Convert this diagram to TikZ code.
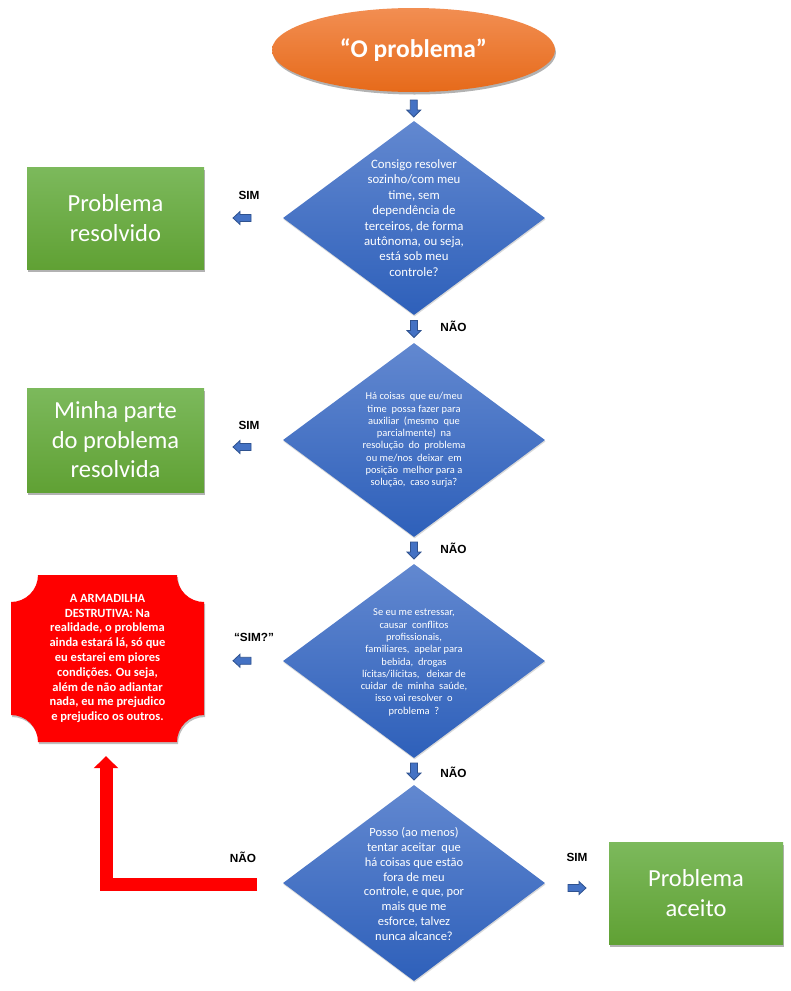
\documentclass[tikz,border=0pt]{standalone}
\usepackage{fontspec}
\setmainfont{Carlito}
\newfontfamily\labfont{Liberation Sans}
\usetikzlibrary{shapes.geometric,arrows.meta,calc,shadows}
\definecolor{orgtop}{RGB}{242,142,82}
\definecolor{orgbot}{RGB}{230,106,26}
\definecolor{blutop}{RGB}{98,136,208}
\definecolor{blubot}{RGB}{46,96,186}
\definecolor{grntop}{RGB}{124,185,92}
\definecolor{grnbot}{RGB}{96,161,52}
\definecolor{arrfill}{RGB}{68,114,196}
\definecolor{arrline}{RGB}{47,82,143}
\definecolor{trapred}{RGB}{255,0,0}
\begin{document}
\begin{tikzpicture}[x=1pt,y=-1pt,
  softshadow/.style={drop shadow={shadow xshift=1pt,shadow yshift=-2.5pt,opacity=0.3,fill=black}},
  startnode/.style={ellipse,inner sep=0pt,minimum width=283pt,minimum height=84pt,
    top color=orgtop,bottom color=orgbot,softshadow,text=white,
    font=\bfseries\fontsize{25.5}{30}\selectfont},
  decision/.style={diamond,inner sep=0pt,minimum width=262pt,minimum height=194pt,
    top color=blutop,bottom color=blubot,drop shadow={shadow xshift=0.5pt,shadow yshift=-1.5pt,opacity=0.15,fill=black}},
  dtext/.style={text=white,align=center,inner sep=0pt},
  dbig/.style={dtext,font=\fontsize{12.8}{15.4}\selectfont},
  dsmall/.style={dtext,font=\fontsize{10.5}{12.3}\selectfont},
  greenbox/.style={rectangle,inner sep=0pt,minimum width=177pt,minimum height=102pt,
    top color=grntop,bottom color=grnbot,softshadow,text=white,align=center,
    font=\fontsize{24.5}{29.5}\selectfont},
  traptext/.style={text=white,align=center,inner sep=0pt,minimum width=193pt,minimum height=167pt,
    font=\bfseries\fontsize{12.5}{14.8}\selectfont},
  lab/.style={font=\labfont\bfseries\fontsize{11.8}{14}\selectfont,inner sep=0pt},
  blockarr/.style={fill=arrfill,draw=arrline,line width=0.8pt,line join=miter},
  redarrow/.style={draw=trapred,line width=13pt,line join=miter,
    -{Triangle[width=24pt,length=12pt]}},
  pics/downarr/.style={code={\draw[blockarr] (-3.5,-8.5) -- (3.5,-8.5) -- (3.5,1.5) -- (7,1.5) -- (0,8.5) -- (-7,1.5) -- (-3.5,1.5) -- cycle;}},
  pics/leftarr/.style={code={\draw[blockarr] (9,-3.5) -- (9,3.5) -- (-2,3.5) -- (-2,6.5) -- (-9,0) -- (-2,-6.5) -- (-2,-3.5) -- cycle;}},
  pics/rightarr/.style={code={\draw[blockarr] (-9,-3.5) -- (-9,3.5) -- (2,3.5) -- (2,6.5) -- (9,0) -- (2,-6.5) -- (2,-3.5) -- cycle;}}
]
\fill[white] (0,0) rectangle (791,991);
\useasboundingbox (0,0) rectangle (791,991);

% start
\node[startnode] (start) at (413.5,50) {“O problema”};

% decisions
\node[decision] (d1) at (414,218) {};
\node[dbig] (d1t) at (d1.center) {Consigo resolver\\sozinho/com meu\\time, sem\\dependência de\\terceiros, de forma\\autônoma, ou seja,\\está sob meu\\controle?};
\node[decision] (d2) at (414,440) {};
\node[dsmall] (d2t) at (d2.center) {Há coisas \ que eu/meu\\time \ possa fazer para\\auxiliar \ (mesmo \ que\\parcialmente) \ na\\resolução \ do \ problema\\ou me/nos \ deixar \ em\\posição \ melhor para a\\solução, \ caso surja?};
\node[decision] (d3) at (414,661) {};
\node[dsmall] (d3t) at (414,662.5) {Se eu me estressar,\\causar \ conflitos\\profissionais,\\familiares, \ apelar para\\bebida, \ drogas\\lícitas/ilícitas, \ \ deixar de\\cuidar \ de \ minha \ saúde,\\isso vai resolver \ o\\problema \ ?};
\node[decision,minimum height=196pt] (d4) at (414,883) {};
\node[dtext,font=\fontsize{12.5}{14.9}\selectfont] (d4t) at (414,884) {Posso (ao menos)\\tentar aceitar \ que\\há coisas que estão\\fora de meu\\controle, e que, por\\mais que me\\esforce, talvez\\nunca alcance?};

% outcomes
\node[greenbox] (solved) at (115.5,218) {Problema\\resolvido};
\node[greenbox,minimum height=104pt] (part) at (115.5,440) {Minha parte\\do problema\\resolvida};
\node[greenbox,minimum width=174pt] (accepted) at (696,893) {Problema\\aceito};

% trap box (plaque)
\path[fill=trapred,drop shadow={shadow xshift=1pt,shadow yshift=-2pt,opacity=0.25,fill=black}]
  (38,575) -- (177,575) arc (180:90:27) -- (204,715) arc (270:180:27)
  -- (38,742) arc (0:-90:27) -- (11,602) arc (90:0:27) -- cycle;
\node[traptext] (trap) at (107.5,658.5) {A ARMADILHA\\DESTRUTIVA: Na\\realidade, o problema\\ainda estará lá, só que\\eu estarei em piores\\condições. Ou seja,\\além de não adiantar\\nada, eu me prejudico\\e prejudico os outros.};

% block arrows
\pic at ($(start.south)!0.5!(d1.north)+(0,2)$) {downarr};
\pic at ($(d1.south)!0.5!(d2.north)$) {downarr};
\pic at ($(d2.south)!0.5!(d3.north)$) {downarr};
\pic at ($(d3.south)!0.5!(d4.north)$) {downarr};
\pic at ($(solved.east)!0.5!(d1.west)+(-1.5,0)$) {leftarr};
\pic at ($(part.east)!0.5!(d2.west)+(-1.5,7)$) {leftarr};
\pic at ($(trap.east)!0.5!(d3.west)+(-1.5,1)$) {leftarr};
\pic at ($(d4.east)!0.5!(accepted.west)$) {rightarr};

% labels
\node[lab] (sim1) at (249,195) {SIM};
\node[lab] (sim2) at (249,425) {SIM};
\node[lab] (sim3) at (254,637) {“SIM?”};
\node[lab] (sim4) at (577,857) {SIM};
\node[lab] (nao1) at (453.5,326) {NÃO};
\node[lab] (nao2) at (453.5,548) {NÃO};
\node[lab] (nao3) at (453.5,772) {NÃO};
\node[lab] (nao4) at (243,857) {NÃO};

% red arrow
\coordinate (redstart) at (257,884.5);
\draw[redarrow] (redstart) -| ($(trap.south)+(-1.5,14)$);
\end{tikzpicture}
\end{document}
